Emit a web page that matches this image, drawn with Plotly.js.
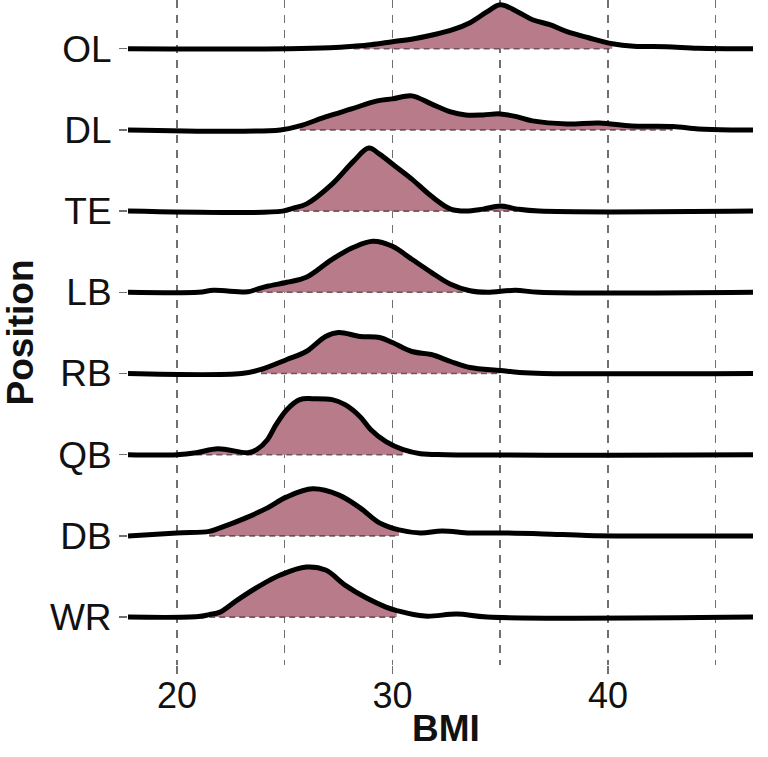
<!DOCTYPE html>
<html><head><meta charset="utf-8">
<script src="https://cdn.plot.ly/plotly-3.0.1.min.js"></script>
<style>html,body{margin:0;padding:0;background:#fff}#chart{width:768px;height:757px}</style>
</head><body><div id="chart"></div>
<script>
// Rows from bottom (0) to top (7)
const positions = ['WR','DB','QB','RB','LB','TE','DL','OL'];

// BMI sample points and ridge heights (scaled density)
const bmi_OL = [17.73, 25.2, 27.1, 28.2, 29.0, 30.0, 31.0, 31.9, 32.8, 33.6, 34.4, 35.0, 35.8, 36.5, 37.3, 38.1, 39.1, 40.2, 41.2, 42.7, 44.2, 46.73];
const den_OL = [0, 0, 1, 2.5, 4, 7, 10, 14, 19, 26, 37, 44, 37, 29, 24, 17, 11, 5, 2.5, 2, 0.5, 0];

const bmi_DL = [17.73, 24.8, 25.7, 26.9, 28.1, 29.3, 30.0, 30.9, 31.8, 32.7, 33.4, 34.2, 35.0, 35.8, 36.5, 38.1, 39.6, 41.1, 43.0, 44.2, 45.7, 46.73];
const den_DL = [0, 0, 4, 13, 21, 29, 31, 34, 26, 18, 15, 15, 16, 13, 9, 6, 7, 4, 3.5, 1, 0, 0];

const bmi_TE = [17.73, 24.9, 25.4, 26.0, 27.2, 28.2, 28.9, 29.4, 30.0, 30.9, 31.8, 32.7, 33.4, 34.2, 35.0, 35.8, 36.8, 46.73];
const den_TE = [0, 0, 3, 7, 27, 50, 63, 57, 47, 32, 15, 2, 0, 2, 5, 2, 0, 0];

const bmi_LB = [17.73, 21.0, 21.7, 23.3, 23.7, 24.2, 25.1, 26.0, 27.2, 28.2, 29.1, 30.0, 30.9, 31.8, 32.7, 33.6, 34.4, 35.7, 36.8, 46.73];
const den_LB = [0, 0, 2, 0.5, 3, 6, 10, 15, 33, 45, 51, 46, 33, 20, 8, 1.5, 0, 2, 0, 0];

const bmi_RB = [17.73, 23.0, 23.9, 25.1, 26.0, 26.9, 27.5, 28.5, 29.4, 30.0, 30.9, 31.8, 32.7, 33.6, 35.0, 35.9, 37.0, 46.73];
const den_RB = [0, 0, 4, 14, 22, 37, 41, 37, 36, 31, 22, 19, 12, 6, 3, 1, 0, 0];

const bmi_QB = [17.73, 20.0, 20.9, 21.9, 23.3, 23.7, 24.2, 24.6, 25.1, 25.7, 26.3, 27.2, 27.8, 28.5, 29.0, 29.7, 30.5, 31.3, 32.5, 46.73];
const den_QB = [0, 0, 2, 6, 2, 5, 15, 30, 45, 55, 56, 55, 50, 38, 25, 13, 5, 1, 0, 0];

const bmi_DB = [17.73, 20.0, 21.5, 22.0, 23.2, 24.2, 25.1, 26.3, 27.5, 28.5, 29.4, 30.3, 31.3, 32.3, 33.6, 35.0, 37.0, 39.0, 41.0, 46.73];
const den_DB = [0, 3, 4.5, 8, 18, 28, 39, 47, 41, 28, 13, 6, 3, 5, 3, 3, 2, 0.5, 0, 0];

const bmi_WR = [17.73, 21.0, 21.5, 22.0, 22.8, 23.9, 24.8, 26.0, 26.9, 27.8, 28.8, 29.7, 30.2, 31.5, 33.0, 34.4, 46.73];
const den_WR = [0, 0.5, 2.5, 5, 17, 32, 42, 50, 47, 32, 19, 10, 6.5, 1, 3, 0, 0];

// Shaded interval (lower / upper BMI) per position, same order as positions
const fillLo = [21.5, 21.5, 20.9, 23.9, 23.7, 25.4, 25.7, 28.2];
const fillHi = [30.2, 30.3, 30.5, 35.0, 33.6, 35.8, 43.0, 40.2];

const bmiData = {OL: bmi_OL, DL: bmi_DL, TE: bmi_TE, LB: bmi_LB, RB: bmi_RB, QB: bmi_QB, DB: bmi_DB, WR: bmi_WR};
const denData = {OL: den_OL, DL: den_DL, TE: den_TE, LB: den_LB, RB: den_RB, QB: den_QB, DB: den_DB, WR: den_WR};

const rowScale = 81.14; // height units per row spacing
const fillColor = 'rgb(183,123,138)';
const traces = [];
for (let i = positions.length - 1; i >= 0; i--) {
  const p = positions[i];
  const xs = bmiData[p];
  const ys = denData[p].map(h => i + h / rowScale);
  const lo = fillLo[i], hi = fillHi[i];
  const fx = [], fy = [];
  xs.forEach((x, k) => { if (x >= lo - 1e-9 && x <= hi + 1e-9) { fx.push(x); fy.push(ys[k]); } });
  traces.push({x: [lo, hi], y: [i, i], mode: 'lines', type: 'scatter',
    line: {color: 'rgba(90,68,76,0.85)', width: 1.6, dash: '6px,4px'}, hoverinfo: 'skip', showlegend: false});
  traces.push({x: fx, y: fy, mode: 'lines', type: 'scatter', fill: 'tonexty', fillcolor: fillColor,
    line: {width: 0, shape: 'spline', color: fillColor}, hoverinfo: 'skip', showlegend: false});
  traces.push({x: xs, y: ys, mode: 'lines', type: 'scatter', name: p,
    line: {color: '#000', width: 5, shape: 'spline'}, showlegend: false});
}

const gridCol = '#707070';
const layout = {
  width: 768, height: 757,
  margin: {l: 128, r: 15, t: 0, b: 92},
  paper_bgcolor: '#fff', plot_bgcolor: '#fff',
  font: {family: 'Liberation Sans, Arial, sans-serif', color: '#111'},
  showlegend: false,
  xaxis: {
    range: [17.73, 46.73], tick0: 0, dtick: 10,
    showgrid: true, gridcolor: gridCol, gridwidth: 1.5, griddash: '8px,7px',
    minor: {dtick: 5, tick0: 0, showgrid: true, gridcolor: gridCol, gridwidth: 1.5, griddash: '8px,7px', ticks: ''},
    ticks: 'outside', ticklen: 8, tickwidth: 1.5, tickcolor: gridCol,
    ticklabelstandoff: -9,
    tickfont: {size: 36, color: '#111'},
    zeroline: false, showline: false
  },
  yaxis: {
    range: [-0.59, 7.60],
    tickmode: 'array', tickvals: positions.map((_, i) => i), ticktext: positions,
    showgrid: false, zeroline: false, showline: false,
    ticks: 'outside', ticklen: 8, tickwidth: 1.5, tickcolor: gridCol,
    tickfont: {size: 37, color: '#111'},
    title: {text: '<b>Position</b>', font: {size: 37, color: '#111'}, standoff: 10}
  },
  annotations: [{
    text: '<b>BMI</b>', xref: 'paper', yref: 'paper', x: 0.509, y: -0.0962,
    xanchor: 'center', yanchor: 'middle', showarrow: false,
    font: {size: 37, color: '#111', family: 'Liberation Sans, Arial, sans-serif'}
  }]
};
Plotly.newPlot('chart', traces, layout, {displayModeBar: false, staticPlot: true});
</script></body></html>
